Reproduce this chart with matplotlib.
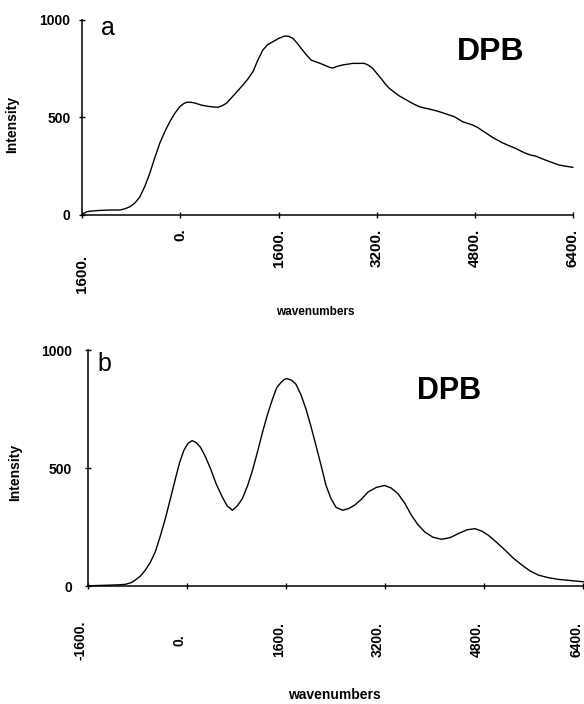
import numpy as np
import matplotlib
matplotlib.use("Agg")
import matplotlib.pyplot as plt

# DPB intensity vs wavenumbers, two panels (a: measured, b: fitted/resolved)

plt.rcParams['font.family'] = ['Liberation Sans', 'DejaVu Sans']
plt.rcParams['font.weight'] = 'bold'

# panel a
wn_a = [-1600, -1530, -1476, -1313, -1150, -988, -900, -825, -740, -662, -580, -500,
        -420, -337, -255, -174, -90, -11, 50, 97, 160, 233, 330, 423, 520, 612, 680,
        749, 880, 1019, 1100, 1182, 1260, 1345, 1420, 1507, 1600, 1698, 1760, 1833,
        1900, 1970, 2050, 2132, 2280, 2430, 2484, 2560, 2647, 2810, 3000, 3070, 3135,
        3200, 3272, 3340, 3407, 3490, 3570, 3650, 3733, 3810, 3896, 3980, 4058, 4170,
        4275, 4370, 4465, 4530, 4601, 4680, 4764, 4850, 4925, 5000, 5088, 5170, 5251,
        5360, 5468, 5550, 5631, 5710, 5793, 5870, 5956, 6070, 6173, 6280, 6400]
int_a = [2, 14, 17, 21, 23, 23, 30, 40, 60, 91, 145, 212,
         290, 366, 425, 476, 520, 553, 568, 575, 576, 572, 562, 556, 552, 550, 558,
         570, 615, 664, 695, 732, 790, 844, 870, 886, 903, 915, 914, 904,
         880, 852, 820, 792, 775, 755, 751, 760, 767, 775, 775, 765, 750,
         725, 698, 670, 647, 627, 608, 594, 579, 566, 553, 546, 541, 532,
         522, 512, 502, 490, 476, 468, 459, 446, 430, 415, 396, 382, 368,
         353, 339, 326, 314, 305, 300, 290, 279, 266, 254, 248, 242]

# panel b
wn_b = [-1600, -1320, -1100, -995, -900, -833, -750, -671, -590, -509, -430, -347,
        -265, -185, -120, -50, 20, 86, 150, 220, 300, 383, 470, 572, 650, 734, 810,
        896, 980, 1059, 1140, 1221, 1300, 1383, 1450, 1518, 1570, 1615, 1690, 1761,
        1840, 1923, 2000, 2085, 2170, 2247, 2328, 2409, 2518, 2610, 2706, 2820, 2923,
        3060, 3193, 3300, 3409, 3520, 3625, 3730, 3841, 3970, 4111, 4250, 4382, 4520,
        4651, 4760, 4868, 5000, 5138, 5270, 5408, 5540, 5678, 5840, 6002, 6200, 6400]
int_b = [1, 3, 5, 7, 14, 25, 42, 67, 100, 145, 210, 286,
         370, 454, 520, 574, 605, 616, 608, 588, 548, 497, 435, 377, 340, 321, 338,
         370, 425, 489, 568, 651, 725, 792, 840, 862, 875, 879, 872, 855,
         812, 750, 680, 595, 508, 426, 370, 333, 321, 328, 342, 368, 398,
         418, 426, 415, 391, 350, 300, 260, 229, 207, 198, 205, 222, 238,
         243, 233, 215, 185, 152, 118, 89, 64, 46, 35, 28, 23, 18]

xticks = [-1600, 0, 1600, 3200, 4800, 6400]
xtick_labels_a = ['1600.', '0.', '1600.', '3200.', '4800.', '6400.']
xtick_labels_b = ['-1600.', '0.', '1600.', '3200.', '4800.', '6400.']
yticks = [0, 500, 1000]


def style_axes(ax, ypad):
    ax.set_xlim(-1600, 6400)
    ax.set_ylim(0, 1000)
    ax.spines['top'].set_visible(False)
    ax.spines['right'].set_visible(False)
    ax.spines['left'].set_linewidth(1.1)
    ax.spines['bottom'].set_linewidth(1.1)
    ax.set_yticks(yticks)
    ax.set_yticklabels([str(v) for v in yticks], fontsize=10, fontweight='bold')
    ax.tick_params(axis='y', direction='inout', length=4, width=1, pad=ypad)
    ax.set_xticks(xticks)


fig = plt.figure(figsize=(5.84, 7.04), dpi=100)

# ---- panel a ----
ax1 = fig.add_axes([0.1411, 0.6953, 0.8396, 0.277])
ax1.plot(wn_a, int_a, color='black', lw=1.0, clip_on=False)
style_axes(ax1, 6.6)
ax1.set_xticklabels([''] + xtick_labels_a[1:], rotation=90, fontsize=11, fontweight='bold')
ax1.tick_params(axis='x', direction='inout', length=4, width=1, pad=8)
# first label sits lower than the others in the original
ax1.annotate(xtick_labels_a[0], xy=(xticks[0], 0), xycoords=ax1.get_xaxis_transform(),
             xytext=(0, -29), textcoords='offset points', rotation=90,
             ha='center', va='top', fontsize=11, fontweight='bold')
ax1.set_ylabel('Intensity', fontsize=10, fontweight='bold')
ax1.yaxis.set_label_coords(-0.129, 0.464)
ax1.set_xlabel('wavenumbers', fontsize=8.5, fontweight='bold')
ax1.xaxis.set_label_coords(0.474, -0.5)
ax1.xaxis.label.set_va('center')
ax1.text(-1177, 920, 'a', fontsize=18, fontweight='normal', ha='center', va='baseline')
ax1.text(5059, 792, 'DPB', fontsize=23, fontweight='heavy', ha='center', va='baseline')

# ---- panel b ----
ax2 = fig.add_axes([0.1502, 0.1676, 0.8486, 0.3352])
ax2.plot(wn_b, int_b, color='black', lw=1.0, clip_on=False)
style_axes(ax2, 9.3)
ax2.set_xticklabels(xtick_labels_b, rotation=90, fontsize=10, fontweight='bold',
                    va='center', ha='right')
ax2.tick_params(axis='x', direction='inout', length=4, width=1, pad=36.8)
ax2.set_ylabel('Intensity', fontsize=10, fontweight='bold')
ax2.yaxis.set_label_coords(-0.1316, 0.483)
ax2.set_xlabel('wavenumbers', fontsize=10, fontweight='bold')
ax2.xaxis.set_label_coords(0.497, -0.462)
ax2.xaxis.label.set_va('center')
ax2.text(-1336, 911, 'b', fontsize=18, fontweight='normal', ha='center', va='baseline')
ax2.text(4225, 793, 'DPB', fontsize=22, fontweight='heavy', ha='center', va='baseline')

fig.savefig('out.png', dpi=100)
